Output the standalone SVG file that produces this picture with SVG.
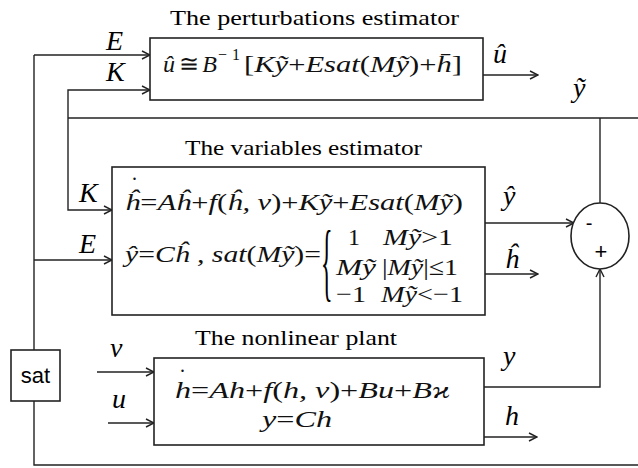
<svg xmlns="http://www.w3.org/2000/svg" width="638" height="468" viewBox="0 0 638 468">
<defs>
<style>
.box{fill:#fff;stroke:#222;stroke-width:1.6}
.ln{fill:none;stroke:#222;stroke-width:1.4}
.ar{marker-end:url(#a)}
.t{font-family:'Liberation Serif','Times New Roman','DejaVu Serif',serif;font-size:22px;fill:#000}
.m{font-family:'Liberation Serif','Times New Roman','DejaVu Serif',serif;font-style:italic;font-size:24px;fill:#111}
.r{font-style:normal}
.lb{font-family:'Liberation Serif','Times New Roman','DejaVu Serif',serif;font-style:italic;font-size:28px;fill:#000}
.s{font-family:'Liberation Sans',Arial,sans-serif;fill:#000}
</style>
<marker id="a" markerWidth="10" markerHeight="10" refX="9" refY="5" orient="auto" markerUnits="userSpaceOnUse">
<path d="M1,1 L9,5 L1,9" fill="none" stroke="#222" stroke-width="1.4"/>
</marker>
</defs>
<rect width="638" height="468" fill="#fff"/>
<g id="connectors">
<path class="ln ar" d="M34,55 L150,55"/>
<path class="ln ar" d="M34,260 L112,260"/>
<path class="ln" d="M34,55 L34,350"/>
<path class="ln" d="M34,401 L34,465 L638,465"/>
<path class="ln ar" d="M68,118 L68,90 L150,90"/>
<path class="ln ar" d="M68,118 L68,210 L112,210"/>
<path class="ln" d="M68,118 L638,118"/>
<path class="ln" d="M600,118 L600,203"/>
<path class="ln ar" d="M483,75 L538,75"/>
<path class="ln ar" d="M485,223 L574,223"/>
<path class="ln ar" d="M485,274 L538,274"/>
<path class="ln ar" d="M484,387 L600,387 L600,269"/>
<path class="ln ar" d="M484,437 L537,437"/>
<path class="ln ar" d="M97,372 L154,372"/>
<path class="ln ar" d="M108,423 L154,423"/>
</g>
<g id="labels">
<text class="lb" x="106" y="50">E</text>
<text class="lb" x="106" y="81">K</text>
<text class="lb" x="79" y="202">K</text>
<text class="lb" x="79" y="253">E</text>
<text class="lb" x="493" y="63">û</text>
<text class="lb" x="573" y="97">ỹ</text>
<text class="lb" x="503" y="205">ŷ</text>
<text class="lb" x="505" y="268">ĥ</text>
<text class="lb" x="110" y="357">v</text>
<text class="lb" x="112" y="408">u</text>
<text class="lb" x="503" y="365">y</text>
<text class="lb" x="505" y="425">h</text>
</g>
<g id="perturbations-estimator">
<text class="t" x="170" y="25" textLength="289" lengthAdjust="spacingAndGlyphs">The perturbations estimator</text>
<rect class="box" x="150" y="38" width="333" height="62"/>
<text class="m" x="163" y="72" textLength="54" lengthAdjust="spacing">û<tspan class="r">≅</tspan>B</text>
<text class="m r" x="218" y="60" style="font-size:16px" textLength="22" lengthAdjust="spacing">−1</text>
<text class="m" x="244" y="72" textLength="218" lengthAdjust="spacingAndGlyphs"><tspan class="r">[</tspan>Kỹ<tspan class="r">+</tspan>Esat<tspan class="r">(</tspan>Mỹ<tspan class="r">)+</tspan>h̄<tspan class="r">]</tspan></text>
</g>
<g id="variables-estimator">
<text class="t" x="185" y="155" textLength="237" lengthAdjust="spacingAndGlyphs">The variables estimator</text>
<rect class="box" x="112" y="167" width="373" height="148"/>
<text class="m r" x="132" y="180" style="font-size:20px">.</text>
<text class="m" x="125" y="210" textLength="338" lengthAdjust="spacingAndGlyphs">ĥ<tspan class="r">=</tspan>Aĥ<tspan class="r">+</tspan>f<tspan class="r">(</tspan>ĥ, v<tspan class="r">)+</tspan>Kỹ<tspan class="r">+</tspan>Esat<tspan class="r">(</tspan>Mỹ<tspan class="r">)</tspan></text>
<text class="m" x="125" y="262" textLength="196" lengthAdjust="spacingAndGlyphs">ŷ<tspan class="r">=</tspan>Cĥ , sat<tspan class="r">(</tspan>Mỹ<tspan class="r">)=</tspan></text>
<text class="t" transform="translate(321,290) scale(0.28,1)" style="font-size:86px">{</text>
<text class="m r" x="348" y="245">1</text>
<text class="m" x="383" y="245" textLength="70" lengthAdjust="spacingAndGlyphs">Mỹ<tspan class="r">&gt;1</tspan></text>
<text class="m" x="336" y="275" textLength="40" lengthAdjust="spacingAndGlyphs">Mỹ</text>
<text class="m" x="382" y="275" textLength="76" lengthAdjust="spacingAndGlyphs"><tspan class="r">|</tspan>Mỹ<tspan class="r">|≤1</tspan></text>
<text class="m r" x="336" y="302" textLength="30" lengthAdjust="spacingAndGlyphs">−1</text>
<text class="m" x="381" y="302" textLength="82" lengthAdjust="spacingAndGlyphs">Mỹ<tspan class="r">&lt;−1</tspan></text>
</g>
<g id="difference">
<ellipse class="box" cx="600" cy="236" rx="29" ry="33"/>
<text class="s" x="589" y="230" style="font-size:20px" text-anchor="middle">-</text>
<text class="s" x="601" y="259" style="font-size:22px" text-anchor="middle">+</text>
</g>
<g id="nonlinear-plant">
<text class="t" x="195" y="345" textLength="202" lengthAdjust="spacingAndGlyphs">The nonlinear plant</text>
<rect class="box" x="154" y="358" width="330" height="87"/>
<text class="m r" x="180" y="372" style="font-size:20px">.</text>
<text class="m" x="175" y="398" textLength="275" lengthAdjust="spacingAndGlyphs">h<tspan class="r">=</tspan>Ah<tspan class="r">+</tspan>f<tspan class="r">(</tspan>h, v<tspan class="r">)+</tspan>Bu<tspan class="r">+</tspan>Bϰ</text>
<text class="m" x="262" y="427" textLength="70" lengthAdjust="spacingAndGlyphs">y<tspan class="r">=</tspan>Ch</text>
</g>
<g id="sat">
<rect class="box" x="11" y="350" width="49" height="51"/>
<text class="s" x="35.5" y="383" style="font-size:22px" text-anchor="middle">sat</text>
</g>
</svg>
